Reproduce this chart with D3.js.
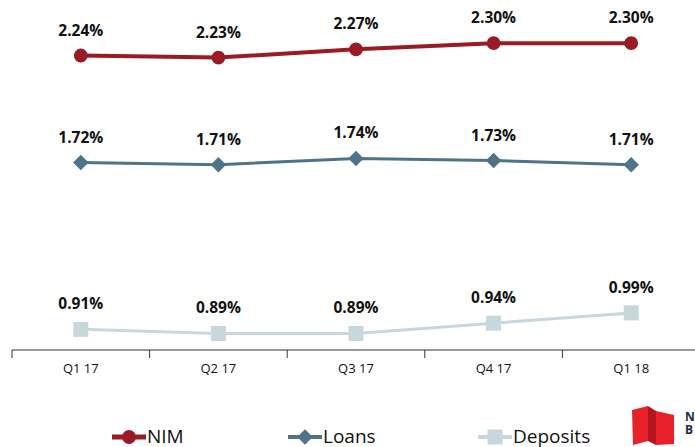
<!DOCTYPE html>
<html>
<head>
<meta charset="utf-8">
<script src="https://cdn.jsdelivr.net/npm/d3@7"></script>
<style>
body { margin: 0; background: #fff; }
svg { display: block; }
</style>
</head>
<body>
<script>
// chart data
var quarters = ["Q1 17", "Q2 17", "Q3 17", "Q4 17", "Q1 18"];
var nimValues = [2.24, 2.23, 2.27, 2.30, 2.30];
var loanValues = [1.72, 1.71, 1.74, 1.73, 1.71];
var depositValues = [0.91, 0.89, 0.89, 0.94, 0.99];
var seriesNames = ["NIM", "Loans", "Deposits"];

var width = 695,
    height = 447,
    axisY = 350;

var svg = d3.select("body").append("svg")
    .attr("width", width)
    .attr("height", height);

// band per quarter, points at band centres
var x = d3.scaleBand()
    .domain(quarters)
    .range([12, 700]);

var y = d3.scaleLinear()
    .domain([0.8, 2.5])
    .range([352, 2]);

var series = [
    {name: seriesNames[0], values: nimValues, color: "#9a1b24", width: 4, marker: "circle"},
    {name: seriesNames[1], values: loanValues, color: "#4f7388", width: 3, marker: "diamond"},
    {name: seriesNames[2], values: depositValues, color: "#c8d7de", width: 3, marker: "square"}
];

function cx(d, i) { return x(quarters[i]) + x.bandwidth() / 2; }

// diamond as a square turned 45 degrees (d3's diamond is too tall)
var squareDiamond = {
    draw: function (ctx, size) {
        var r = Math.sqrt(size / 2);
        ctx.moveTo(0, -r);
        ctx.lineTo(r, 0);
        ctx.lineTo(0, r);
        ctx.lineTo(-r, 0);
        ctx.closePath();
    }
};

var symbols = {
    circle: d3.symbol().type(d3.symbolCircle).size(150),
    diamond: d3.symbol().type(squareDiamond).size(120),
    square: d3.symbol().type(d3.symbolSquare).size(225)
};

//x axis
var xAxis = svg.append("g")
    .attr("transform", "translate(0," + axisY + ")");
xAxis.append("line")
    .attr("x1", 12).attr("x2", width)
    .attr("stroke", "#333").attr("stroke-width", 1);
xAxis.selectAll(".tick")
    .data(quarters.concat(["end"]))
    .enter()
    .append("line")
    .attr("x1", function (d, i) { return 12 + i * x.bandwidth(); })
    .attr("x2", function (d, i) { return 12 + i * x.bandwidth(); })
    .attr("y1", 0).attr("y2", 8)
    .attr("stroke", "#333");
xAxis.selectAll(".qlabel")
    .data(quarters)
    .enter()
    .append("text")
    .attr("x", function (d) { return x(d) + x.bandwidth() / 2; })
    .attr("y", 23)
    .attr("text-anchor", "middle")
    .style("font-family", "'Open Sans', sans-serif")
    .style("font-size", "13px")
    .style("fill", "#111")
    .text(function (d) { return d; });

var line = d3.line()
    .x(cx)
    .y(function (d) { return y(d); });

series.forEach(function (s) {
    var g = svg.append("g");
    g.append("path")
        .datum(s.values)
        .attr("d", line)
        .attr("fill", "none")
        .attr("stroke", s.color)
        .attr("stroke-width", s.width);
    g.selectAll(".pt")
        .data(s.values)
        .enter()
        .append("path")
        .attr("d", symbols[s.marker])
        .attr("transform", function (d, i) { return "translate(" + cx(d, i) + "," + y(d) + ")"; })
        .attr("fill", s.color);
    g.selectAll(".lbl")
        .data(s.values)
        .enter()
        .append("text")
        .attr("x", cx)
        .attr("y", function (d) { return y(d) - 20; })
        .attr("text-anchor", "middle")
        .style("font-family", "'Open Sans', sans-serif")
        .style("font-weight", "bold")
        .style("font-size", "15.5px")
        .style("fill", "#111")
        .text(function (d) { return d.toFixed(2) + "%"; });
});

//legend
var legendX = [112, 288, 478];
var legend = svg.selectAll(".legend")
    .data(series)
    .enter()
    .append("g")
    .attr("transform", function (d, i) { return "translate(" + legendX[i] + ",437)"; });
legend.append("line")
    .attr("x1", 0).attr("x2", 34)
    .attr("stroke", function (d) { return d.color; })
    .attr("stroke-width", function (d) { return d.width + 1; });
legend.append("path")
    .attr("d", function (d) { return symbols[d.marker](); })
    .attr("transform", "translate(17,0)")
    .attr("fill", function (d) { return d.color; });
legend.append("text")
    .attr("x", 35)
    .attr("y", 6)
    .style("font-family", "'Open Sans', sans-serif")
    .style("font-size", "19px")
    .style("fill", "#111")
    .text(function (d) { return d.name; });

//logo in the corner
var logo = svg.append("g").attr("transform", "translate(632,405)");
logo.append("path")
    .attr("d", "M0,5 L16,1 L16,36 L1,40 Z")
    .attr("fill", "#e8202a");
logo.append("path")
    .attr("d", "M16,1 L24,6 L24,40 L16,36 Z")
    .attr("fill", "#b3161e");
logo.append("path")
    .attr("d", "M24,6 L42,10 L42,39 L24,40 Z")
    .attr("fill", "#e8202a");
logo.append("text")
    .attr("x", 53).attr("y", 16)
    .style("font-family", "'Open Sans', sans-serif")
    .style("font-weight", "bold")
    .style("font-size", "12px")
    .style("fill", "#1b2a44")
    .text("N");
logo.append("text")
    .attr("x", 53).attr("y", 29)
    .style("font-family", "'Open Sans', sans-serif")
    .style("font-weight", "bold")
    .style("font-size", "12px")
    .style("fill", "#1b2a44")
    .text("B");
</script>
</body>
</html>
